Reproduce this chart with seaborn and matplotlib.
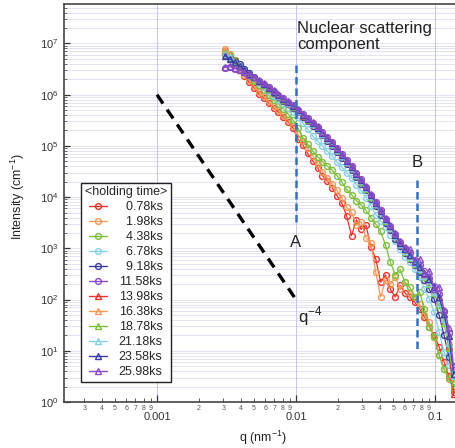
import numpy as np
import pandas as pd
import seaborn as sns
import matplotlib
matplotlib.use("Agg")
import matplotlib.pyplot as plt
from matplotlib.ticker import FixedLocator, FuncFormatter, NullFormatter, LogFormatterSciNotation
from matplotlib.lines import Line2D

# ---- data -------------------------------------------------------------
q = [0.00308, 0.00334, 0.00362, 0.00393, 0.00426, 0.00461, 0.00500, 0.00542,
     0.00587, 0.00637, 0.00690, 0.00748, 0.00811, 0.00879, 0.00953, 0.0103,
     0.0112, 0.0121, 0.0132, 0.0143, 0.0155, 0.0167, 0.0182, 0.0197,
     0.0213, 0.0231, 0.0251, 0.0272, 0.0294, 0.0319, 0.0346, 0.0375,
     0.0406, 0.0441, 0.0478, 0.0518, 0.0561, 0.0608, 0.0659, 0.0714,
     0.0774, 0.0839, 0.0910, 0.0986, 0.107, 0.116, 0.126, 0.136]

# log10 of intensity (cm^-1) for each holding time
log_i_0078 = [6.86, 6.77, 6.67, 6.51, 6.36, 6.24, 6.13, 6.01, 5.93, 5.83, 5.74, 5.66,
              5.56, 5.47, 5.35, 5.14, 5.02, 4.86, 4.71, 4.57, 4.42, 4.32, 4.18, 4.03,
              3.89, 3.64, 3.25, 3.56, 3.37, 3.45, 3.02, 2.79, 2.34, 2.48, 2.20, 2.05,
              2.28, 2.13, 2.05, 1.95, 1.82, 1.66, 1.47, 1.31, 1.08, 0.79, 0.50, 0.20]
log_i_0198 = [6.90, 6.79, 6.67, 6.51, 6.38, 6.28, 6.17, 6.05, 5.97, 5.87, 5.78, 5.70,
              5.60, 5.50, 5.39, 5.23, 5.10, 4.96, 4.81, 4.65, 4.50, 4.38, 4.26, 4.13,
              3.99, 3.80, 3.70, 3.45, 3.52, 3.21, 3.10, 2.53, 2.05, 2.38, 2.30, 2.44,
              2.20, 2.34, 2.13, 2.05, 1.91, 1.70, 1.56, 1.27, 0.92, 0.65, 0.44, 0.26]
log_i_0438 = [6.84, 6.77, 6.67, 6.57, 6.46, 6.36, 6.26, 6.18, 6.09, 5.99, 5.89, 5.82,
              5.72, 5.62, 5.50, 5.35, 5.16, 5.04, 4.90, 4.79, 4.69, 4.61, 4.53, 4.42,
              4.30, 4.15, 4.05, 3.93, 3.85, 3.74, 3.60, 3.47, 3.33, 3.06, 2.73, 2.48,
              2.59, 2.34, 2.24, 2.05, 2.15, 1.82, 1.47, 1.27, 0.92, 0.65, 0.46, 0.26]
log_i_0678 = [6.81, 6.73, 6.65, 6.57, 6.50, 6.40, 6.32, 6.22, 6.15, 6.07, 5.97, 5.89,
              5.82, 5.74, 5.66, 5.56, 5.45, 5.33, 5.19, 5.10, 5.00, 4.90, 4.81, 4.69,
              4.59, 4.48, 4.38, 4.24, 4.13, 3.99, 3.83, 3.66, 3.54, 3.41, 3.27, 3.14,
              2.98, 2.84, 2.73, 2.59, 2.44, 2.20, 2.01, 1.76, 1.37, 0.98, 0.73, 0.40]
log_i_0918 = [6.77, 6.71, 6.65, 6.59, 6.51, 6.42, 6.34, 6.26, 6.18, 6.11, 6.03, 5.95,
              5.87, 5.82, 5.74, 5.66, 5.56, 5.49, 5.39, 5.31, 5.21, 5.10, 5.00, 4.88,
              4.77, 4.65, 4.53, 4.40, 4.26, 4.13, 3.97, 3.82, 3.66, 3.50, 3.35, 3.19,
              3.04, 2.90, 2.79, 2.67, 2.53, 2.38, 2.20, 2.01, 1.70, 1.31, 0.88, 0.40]
log_i_1158 = [6.53, 6.55, 6.51, 6.48, 6.44, 6.38, 6.33, 6.27, 6.21, 6.15, 6.08, 6.00,
              5.93, 5.86, 5.79, 5.71, 5.62, 5.54, 5.45, 5.37, 5.27, 5.17, 5.07, 4.95,
              4.84, 4.72, 4.60, 4.47, 4.35, 4.20, 4.05, 3.90, 3.74, 3.58, 3.44, 3.28,
              3.12, 3.00, 2.90, 2.78, 2.68, 2.55, 2.43, 2.26, 2.10, 1.78, 1.35, 0.62]
log_i_1398 = [6.84, 6.74, 6.64, 6.56, 6.48, 6.40, 6.33, 6.26, 6.19, 6.12, 6.05, 5.97,
              5.90, 5.83, 5.76, 5.68, 5.59, 5.51, 5.42, 5.33, 5.24, 5.13, 5.03, 4.92,
              4.81, 4.69, 4.57, 4.44, 4.32, 4.18, 4.02, 3.87, 3.71, 3.55, 3.41, 3.25,
              3.09, 2.95, 2.86, 2.72, 2.60, 2.50, 2.35, 2.15, 1.95, 1.60, 1.10, 0.15]
log_i_1638 = [6.88, 6.76, 6.66, 6.57, 6.49, 6.41, 6.34, 6.27, 6.20, 6.13, 6.06, 5.98,
              5.91, 5.84, 5.77, 5.69, 5.60, 5.52, 5.43, 5.35, 5.25, 5.15, 5.05, 4.93,
              4.82, 4.70, 4.58, 4.45, 4.33, 4.19, 4.03, 3.88, 3.72, 3.56, 3.42, 3.26,
              3.10, 2.97, 2.84, 2.74, 2.62, 2.47, 2.38, 2.18, 1.98, 1.65, 1.20, 0.45]
log_i_1878 = [6.82, 6.74, 6.65, 6.57, 6.49, 6.41, 6.33, 6.26, 6.19, 6.12, 6.05, 5.98,
              5.90, 5.83, 5.76, 5.68, 5.60, 5.51, 5.42, 5.33, 5.23, 5.13, 5.03, 4.92,
              4.80, 4.68, 4.56, 4.43, 4.30, 4.16, 4.01, 3.86, 3.70, 3.54, 3.40, 3.24,
              3.08, 2.93, 2.82, 2.70, 2.58, 2.44, 2.30, 2.12, 1.90, 1.55, 1.05, 0.40]
log_i_2118 = [6.80, 6.73, 6.64, 6.57, 6.49, 6.41, 6.34, 6.27, 6.20, 6.13, 6.06, 5.98,
              5.91, 5.84, 5.77, 5.69, 5.60, 5.52, 5.43, 5.34, 5.24, 5.14, 5.04, 4.93,
              4.81, 4.69, 4.57, 4.44, 4.31, 4.17, 4.02, 3.86, 3.71, 3.55, 3.40, 3.25,
              3.09, 2.95, 2.83, 2.72, 2.60, 2.46, 2.33, 2.15, 1.94, 1.62, 1.15, 0.50]
log_i_2358 = [6.76, 6.70, 6.63, 6.56, 6.49, 6.41, 6.34, 6.27, 6.20, 6.13, 6.06, 5.99,
              5.92, 5.85, 5.78, 5.70, 5.61, 5.53, 5.44, 5.35, 5.26, 5.16, 5.06, 4.94,
              4.83, 4.71, 4.59, 4.46, 4.33, 4.19, 4.04, 3.89, 3.73, 3.57, 3.43, 3.27,
              3.11, 2.98, 2.87, 2.76, 2.64, 2.52, 2.40, 2.24, 2.05, 1.72, 1.28, 0.55]
log_i_2598 = [6.55, 6.56, 6.52, 6.49, 6.45, 6.39, 6.34, 6.28, 6.22, 6.16, 6.09, 6.01,
              5.94, 5.87, 5.80, 5.72, 5.63, 5.55, 5.46, 5.38, 5.28, 5.18, 5.08, 4.96,
              4.85, 4.73, 4.61, 4.48, 4.36, 4.21, 4.06, 3.91, 3.75, 3.60, 3.46, 3.30,
              3.15, 3.02, 2.98, 2.74, 2.80, 2.50, 2.55, 2.20, 2.25, 1.80, 1.45, 0.70]

holding_times = ["0.78ks", "1.98ks", "4.38ks", "6.78ks", "9.18ks", "11.58ks",
                 "13.98ks", "16.38ks", "18.78ks", "21.18ks", "23.58ks", "25.98ks"]
series = [log_i_0078, log_i_0198, log_i_0438, log_i_0678, log_i_0918, log_i_1158,
          log_i_1398, log_i_1638, log_i_1878, log_i_2118, log_i_2358, log_i_2598]

six_colors = ["#e8322b", "#f39a5a", "#7cbf3a", "#86d0e4", "#3b3ba3", "#8a4cc4"]
colors = six_colors + six_colors
markers = ["o"] * 6 + ["^"] * 6

# reference slope q^-4 and the two marked q positions
slope_q = [0.001, 0.01]
slope_i = [1.0e6, 1.0e2]
q_a, q_b = 0.01, 0.074

# axis ranges and tick positions
x_range = (2.143e-4, 0.1416)
y_range = (1.0, 5.9e7)
x_major = [0.001, 0.01, 0.1]
y_major = [1e0, 1e1, 1e2, 1e3, 1e4, 1e5, 1e6, 1e7]

# ---- figure -----------------------------------------------------------
sns.set_style("ticks")
plt.rcParams["font.family"] = ["Liberation Sans", "DejaVu Sans"]
plt.rcParams["mathtext.fontset"] = "custom"
plt.rcParams["mathtext.rm"] = "Liberation Sans"

fig = plt.figure(figsize=(4.56, 4.48), dpi=100)
ax = fig.add_axes([64 / 456, 46 / 448, 1 - 64 / 456, 398 / 448])
ax.set_xscale("log")
ax.set_yscale("log")
ax.set_xlim(*x_range)
ax.set_ylim(*y_range)

frames = []
for lab, vals in zip(holding_times, series):
    frames.append(pd.DataFrame({"q": q, "I": np.power(10.0, vals), "time": lab}))
df = pd.concat(frames, ignore_index=True)

handles = []
for lab, c, m in zip(holding_times, colors, markers):
    sub = df[df["time"] == lab]
    sns.lineplot(data=sub, x="q", y="I", ax=ax, color=c, marker=m,
                 markersize=4.2 if m == "o" else 4.6, markerfacecolor="none",
                 markeredgecolor=c, markeredgewidth=1.0, linewidth=0.9,
                 estimator=None, errorbar=None, sort=False, legend=False,
                 zorder=3)
    handles.append(Line2D([], [], color=c, marker=m, markersize=4.2,
                          markerfacecolor="none", markeredgecolor=c,
                          markeredgewidth=1.0, linewidth=1.0))

# q^-4 guide and the A / B markers
ax.plot(slope_q, slope_i, color="black", lw=2.4, ls=(0, (3.2, 2.2)), zorder=4)
ax.plot([q_a, q_a], [3.8e6, 3.3e3], color="#3a6fb8", lw=1.8,
        ls=(0, (3, 1.6)), zorder=4)
ax.plot([q_b, q_b], [2.2e4, 9.6], color="#3a6fb8", lw=1.8,
        ls=(0, (3, 1.6)), zorder=4)

ax.text(q_a, 1.33e3, "A", ha="center", va="center", fontsize=12, color="#222")
ax.text(q_b, 4.7e4, "B", ha="center", va="center", fontsize=12, color="#222")
ax.text(0.0102, 2.75e7, "Nuclear scattering\ncomponent", ha="left", va="top",
        fontsize=12, color="#222", linespacing=1.1)
ax.text(0.0103, 48, r"q$^{-4}$", ha="left", va="center", fontsize=12,
        color="#222")

# ---- axes styling ---------------------------------------------------------
def decade_minors(lo, hi):
    out = []
    for e in range(int(np.floor(np.log10(lo))), int(np.ceil(np.log10(hi))) + 1):
        for d in range(2, 10):
            v = d * 10.0 ** e
            if lo <= v <= hi:
                out.append(v)
    return out


x_minor = decade_minors(*x_range)
y_minor = decade_minors(*y_range)

ax.xaxis.set_major_locator(FixedLocator(x_major))
ax.xaxis.set_minor_locator(FixedLocator(x_minor))
ax.xaxis.set_major_formatter(FuncFormatter(lambda v, p: f"{v:g}"))
ax.xaxis.set_minor_formatter(
    FuncFormatter(lambda v, p: f"{int(round(v / 10 ** np.floor(np.log10(v) + 1e-9)))}"))
ax.yaxis.set_major_locator(FixedLocator(y_major))
ax.yaxis.set_minor_locator(FixedLocator(y_minor))
ax.yaxis.set_major_formatter(LogFormatterSciNotation())
ax.yaxis.set_minor_formatter(NullFormatter())

ax.tick_params(axis="x", which="major", direction="in", length=5, width=0.9,
               pad=7.5, labelsize=8, colors="#333")
ax.tick_params(axis="x", which="minor", direction="in", length=3, width=0.7,
               pad=2, labelsize=5, colors="#555")
ax.tick_params(axis="y", which="major", direction="in", length=4, width=0.9,
               pad=4, labelsize=8, colors="#333")
ax.tick_params(axis="y", which="minor", direction="in", length=2, width=0.6,
               colors="#555")

ax.grid(which="major", axis="x", color="#c6c6ec", lw=0.7, ls="-", zorder=0)
ax.grid(which="both", axis="y", color="#bdbde6", lw=0.6, ls=(0, (1.2, 1.2)),
        zorder=0)
ax.set_axisbelow(True)

for side in ["left", "top", "bottom"]:
    ax.spines[side].set_color("#444")
    ax.spines[side].set_linewidth(1.2)
ax.spines["right"].set_visible(False)

ax.set_xlabel(r"q (nm$^{-1}$)", fontsize=9, color="#222")
ax.set_ylabel(r"Intensity (cm$^{-1}$)", fontsize=9, color="#222")
ax.xaxis.set_label_coords(0.508, -0.068)
ax.yaxis.set_label_coords(-0.094, 0.515)

labels = [("\u2007" + t) if len(t) == 6 else t for t in holding_times]
leg = ax.legend(handles, labels, title="<holding time>", loc="lower left",
                bbox_to_anchor=(0.043, 0.05), borderaxespad=0,
                fontsize=9, title_fontsize=9, frameon=True, fancybox=False,
                edgecolor="#222", framealpha=1, handlelength=1.45,
                handletextpad=0.95, labelspacing=0.24, borderpad=0.3)
leg.get_frame().set_linewidth(1.0)
leg.set_zorder(5)

fig.savefig("out.png", dpi=100)
